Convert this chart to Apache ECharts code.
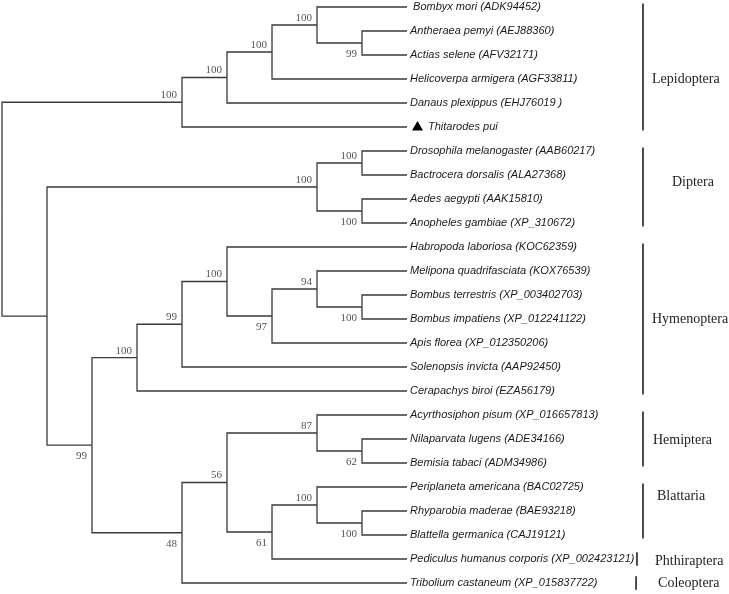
<!DOCTYPE html>
<html>
<head>
<meta charset="utf-8">
<script src="https://cdn.jsdelivr.net/npm/echarts@6/dist/echarts.min.js"></script>
<style>html,body{margin:0;padding:0;background:#fff}#c{width:729px;height:594px}</style>
</head>
<body>
<div id="c"></div>
<script>
// ---- data ----
const leafNames = [
  ' Bombyx mori (ADK94452)',
  'Antheraea pemyi (AEJ88360)',
  'Actias selene (AFV32171)',
  'Helicoverpa armigera (AGF33811)',
  'Danaus plexippus (EHJ76019 )',
  'Thitarodes pui',
  'Drosophila melanogaster (AAB60217)',
  'Bactrocera dorsalis (ALA27368)',
  'Aedes aegypti (AAK15810)',
  'Anopheles gambiae (XP_310672)',
  'Habropoda laboriosa (KOC62359)',
  'Melipona quadrifasciata (KOX76539)',
  'Bombus terrestris (XP_003402703)',
  'Bombus impatiens (XP_012241122)',
  'Apis florea (XP_012350206)',
  'Solenopsis invicta (AAP92450)',
  'Cerapachys biroi (EZA56179)',
  'Acyrthosiphon pisum (XP_016657813)',
  'Nilaparvata lugens (ADE34166)',
  'Bemisia tabaci (ADM34986)',
  'Periplaneta americana (BAC02725)',
  'Rhyparobia maderae (BAE93218)',
  'Blattella germanica (CAJ19121)',
  'Pediculus humanus corporis (XP_002423121)',
  'Tribolium castaneum (XP_015837722)'
];
const markedLeaf = 5; // ▲ Thitarodes pui
const leafDepth = 9;

// internal nodes: depth level, children, bootstrap support, label side (a = above, b = below)
const nodeIds      = ['N0','N1','N2','N3','N4','N5','N6','N7','N8','N9','N10','N11','N12','N13','N14','N15','N16','N17','N18','N19','N20','N21','N22','N23'];
const nodeDepth    = [0, 4, 5, 6, 7, 8, 1, 7, 8, 8, 2, 3, 4, 5, 6, 7, 8, 4, 5, 7, 8, 6, 7, 8];
const nodeChildren = [
  ['N1','N6'], ['N2','L5'], ['N3','L4'], ['N4','L3'], ['L0','N5'], ['L1','L2'],
  ['N7','N10'], ['N8','N9'], ['L6','L7'], ['L8','L9'],
  ['N11','N17'], ['N12','L16'], ['N13','L15'], ['L10','N14'], ['N15','L14'], ['L11','N16'], ['L12','L13'],
  ['N18','L24'], ['N19','N21'], ['L17','N20'], ['L18','L19'], ['N22','L23'], ['L20','N23'], ['L21','L22']
];
const nodeSupport  = [null, 100, 100, 100, 100, 99, null, 100, 100, 100, 99, 100, 99, 100, 97, 94, 100, 48, 56, 87, 62, 61, 100, 100];
const nodeLabelSide= ['a','a','a','a','a','b','a','a','a','b','b','a','a','a','b','a','b','b','a','a','b','b','a','b'];

// clades
const cladeNames = ['Lepidoptera','Diptera','Hymenoptera','Hemiptera','Blattaria','Phthiraptera','Coleoptera'];
const cladeFirst = [0, 6, 10, 17, 20, 23, 24];
const cladeLast  = [5, 9, 16, 19, 22, 23, 24];
const cladeLabelRow = [3, 7.3, 13, 18.05, 20.4, 23.1, 24];

// ---- layout (positions/styles) ----
const cladeBarX   = [14.244, 14.244, 14.244, 14.244, 14.244, 14.11, 14.09];
const cladeLabelDx = [9, 29, 9, 10, 14, 18, 22];

// ---- build tree geometry ----
const idx = {}; nodeIds.forEach((id,i)=>idx[id]=i);
function depthOf(id){ return id[0]==='L' ? leafDepth : nodeDepth[idx[id]]; }
const yCache = {};
function yOf(id){
  if(id[0]==='L') return +id.slice(1);
  if(yCache[id]!==undefined) return yCache[id];
  const ch = nodeChildren[idx[id]];
  const v = (yOf(ch[0]) + yOf(ch[ch.length-1]))/2;
  yCache[id]=v; return v;
}
const branchData = [];
nodeIds.forEach((id,i)=>{
  nodeChildren[i].forEach(c=>{
    branchData.push([nodeDepth[i], yOf(id), depthOf(c), yOf(c)]);
  });
});
const supportData = [];
nodeIds.forEach((id,i)=>{
  if(nodeSupport[i]!==null) supportData.push([nodeDepth[i], yOf(id), nodeSupport[i], nodeLabelSide[i]==='a'?0:1]);
});
const leafData = leafNames.map((n,i)=>[leafDepth, i]);
const cladeData = cladeNames.map((n,i)=>[cladeBarX[i], cladeFirst[i], cladeLast[i], cladeLabelRow[i]]);

const chart = echarts.init(document.getElementById('c'), null, {renderer:'canvas'});
chart.setOption({
  backgroundColor:'#fff',
  animation:false,
  grid:{left:2, top:7, width:720, height:576},
  xAxis:{type:'value', min:0, max:16, show:false},
  yAxis:{type:'value', min:0, max:24, inverse:true, show:false},
  series:[
    {
      type:'custom', name:'branches', data:branchData, clip:false,
      encode:{x:[0,2], y:[1,3]},
      renderItem:(params, api)=>{
        const p0 = api.coord([api.value(0), api.value(1)]);
        const p1 = api.coord([api.value(0), api.value(3)]);
        const p2 = api.coord([api.value(2), api.value(3)]);
        return {type:'polyline', shape:{points:[p0,p1,p2]},
          style:{stroke:'#3a3a3a', lineWidth:1.3, fill:null, lineJoin:'miter'}};
      }
    },
    {
      type:'custom', name:'support', data:supportData, clip:false,
      encode:{x:0, y:1},
      renderItem:(params, api)=>{
        const p = api.coord([api.value(0), api.value(1)]);
        const below = api.value(3)===1;
        return {type:'text', x:p[0]-5, y:p[1] + (below?11:-7),
          style:{text:String(supportData[params.dataIndex][2]), font:'11px "Liberation Serif"', fill:'#555', align:'right', verticalAlign:'middle'}};
      }
    },
    {
      type:'custom', name:'leaves', data:leafData, clip:false,
      encode:{x:0, y:1},
      renderItem:(params, api)=>{
        const i = params.dataIndex;
        const p = api.coord([api.value(0), api.value(1)]);
        const font = 'italic 11px "Liberation Sans"';
        if(i===markedLeaf){
          return {type:'group', children:[
            {type:'polygon', shape:{points:[[p[0]+5,p[1]+3.5],[p[0]+16,p[1]+3.5],[p[0]+10.5,p[1]-6]]}, style:{fill:'#000'}},
            {type:'text', x:p[0]+21, y:p[1], style:{text:leafNames[i], font:font, fill:'#1a1a1a', align:'left', verticalAlign:'middle'}}
          ]};
        }
        return {type:'text', x:p[0]+3, y:p[1],
          style:{text:leafNames[i], font:font, fill:'#1a1a1a', align:'left', verticalAlign:'middle'}};
      }
    },
    {
      type:'custom', name:'clades', data:cladeData, clip:false,
      encode:{x:0, y:[1,2]},
      renderItem:(params, api)=>{
        const i = params.dataIndex;
        const single = cladeFirst[i]===cladeLast[i];
        const pad = single?0.28:0.15;
        const pa = api.coord([api.value(0), api.value(1)-pad]);
        const pb = api.coord([api.value(0), api.value(2)+pad]);
        const pl = api.coord([api.value(0), api.value(3)]);
        return {type:'group', children:[
          {type:'line', shape:{x1:pa[0], y1:pa[1], x2:pb[0], y2:pb[1]}, style:{stroke:'#222', lineWidth:1.6}},
          {type:'text', x:pl[0]+cladeLabelDx[i], y:pl[1], style:{text:cladeNames[i], font:'14px "Liberation Serif"', fill:'#222', align:'left', verticalAlign:'middle'}}
        ]};
      }
    }
  ]
});
</script>
</body>
</html>
